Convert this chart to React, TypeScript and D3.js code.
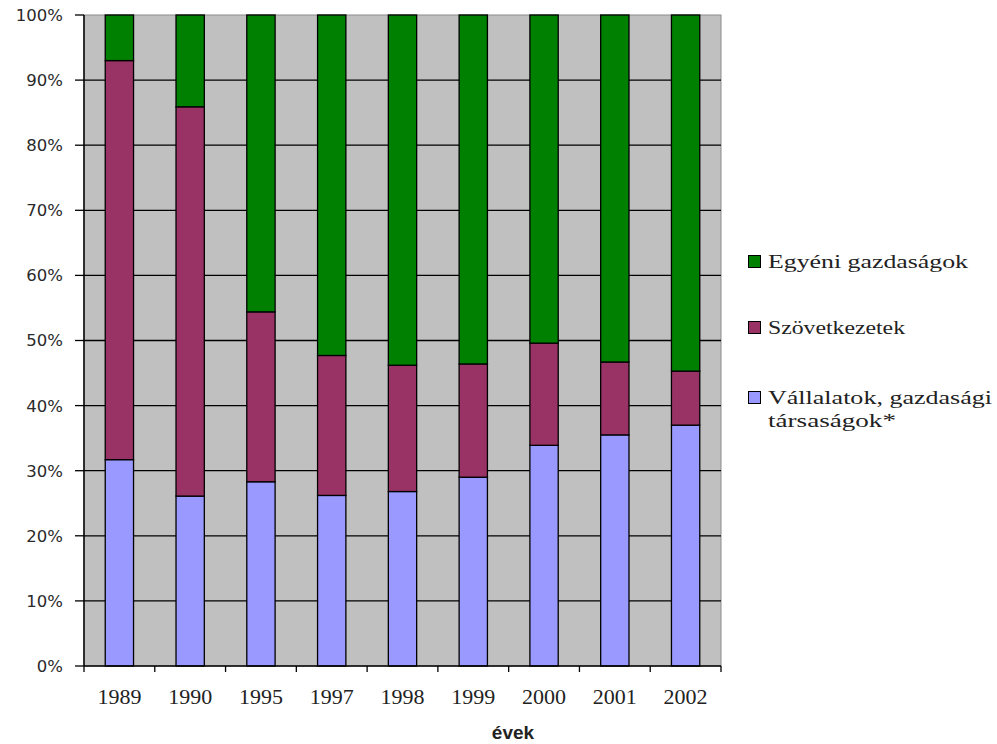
import React from "react";
import * as d3 from "d3";

// Share of agricultural land use by type of farm, 1989–2002 (%)
const years = ["1989", "1990", "1995", "1997", "1998", "1999", "2000", "2001", "2002"];
const vallalatok = [31.7, 26.1, 28.3, 26.2, 26.8, 29.0, 33.9, 35.5, 37.0];
const szovetkezetek = [61.3, 59.8, 26.1, 21.5, 19.4, 17.4, 15.7, 11.2, 8.3];
const egyeni = [7.0, 14.1, 45.6, 52.3, 53.8, 53.6, 50.4, 53.3, 54.7];
const yTicks = [0, 10, 20, 30, 40, 50, 60, 70, 80, 90, 100];

const seriesColors = ["#9999FF", "#993366", "#008000"];

const W = 997;
const H = 744;
const plot = { left: 84, right: 721, top: 15, bottom: 666 };

export default function App() {
  const x = d3
    .scaleBand<string>()
    .domain(years)
    .range([plot.left, plot.right])
    .paddingInner(0.6)
    .paddingOuter(0.3);
  const y = d3.scaleLinear().domain([0, 100]).range([plot.bottom, plot.top]);

  const rows = years.map((yr, i) => ({
    year: yr,
    v: vallalatok[i],
    s: szovetkezetek[i],
    e: egyeni[i],
  }));
  const stack = d3.stack<any>().keys(["v", "s", "e"]);
  const layers = stack(rows);

  const step = x.step();
  const boundaries = d3.range(years.length + 1).map((i) => plot.left + i * step);

  const legend = [
    { label: ["Egyéni gazdaságok"], color: seriesColors[2], cy: 262, widths: [200] },
    { label: ["Szövetkezetek"], color: seriesColors[1], cy: 328, widths: [137] },
    { label: ["Vállalatok, gazdasági", "társaságok*"], color: seriesColors[0], cy: 398, widths: [224, 128] },
  ];

  return (
    <svg
      width={W}
      height={H}
      style={{ position: "absolute", left: 0, top: 0, display: "block", background: "#fff" }}
    >
      {/* plot background */}
      <rect
        x={plot.left}
        y={plot.top}
        width={plot.right - plot.left}
        height={plot.bottom - plot.top}
        fill="#C0C0C0"
        stroke="#8c8c8c"
        strokeWidth={1}
      />
      {/* horizontal gridlines */}
      {yTicks
        .filter((t) => t > 0 && t < 100)
        .map((t) => (
          <line key={t} x1={plot.left} x2={plot.right} y1={y(t)} y2={y(t)} stroke="#000" strokeWidth={1.3} />
        ))}
      {/* stacked bars */}
      {layers.map((layer, li) => (
        <g key={li} fill={seriesColors[li]} stroke="#000" strokeWidth={1.3}>
          {layer.map((d, i) => (
            <rect
              key={i}
              x={x(years[i])}
              y={y(d[1])}
              width={x.bandwidth()}
              height={y(d[0]) - y(d[1])}
            />
          ))}
        </g>
      ))}
      {/* axes */}
      <line x1={plot.left} x2={plot.left} y1={plot.top} y2={plot.bottom} stroke="#000" strokeWidth={1.5} />
      <line x1={plot.left} x2={plot.right} y1={plot.bottom} y2={plot.bottom} stroke="#000" strokeWidth={1.5} />
      {yTicks.map((t) => (
        <g key={t}>
          <line x1={plot.left - 9} x2={plot.left} y1={y(t)} y2={y(t)} stroke="#000" strokeWidth={1.3} />
          <text
            x={63}
            y={y(t)}
            dy="0.36em"
            textAnchor="end"
            fontFamily="DejaVu Sans, sans-serif"
            fontSize={16.5}
            fill="#2a2a2a"
          >
            {t}%
          </text>
        </g>
      ))}
      {boundaries.map((bx, i) => (
        <line key={i} x1={bx} x2={bx} y1={plot.bottom} y2={plot.bottom + 6} stroke="#000" strokeWidth={1.3} />
      ))}
      {years.map((yr) => (
        <text
          key={yr}
          x={(x(yr) as number) + x.bandwidth() / 2}
          y={704}
          textAnchor="middle"
          fontFamily="Liberation Serif, Times New Roman, serif"
          fontSize={22}
          fill="#222"
        >
          {yr}
        </text>
      ))}
      {/* axis title */}
      <text
        x={513}
        y={739}
        textAnchor="middle"
        fontFamily="Liberation Sans, Arial, sans-serif"
        fontWeight="bold"
        fontSize={19}
        fill="#222"
      >
        évek
      </text>
      {/* legend */}
      {legend.map((l, i) => (
        <g key={i}>
          <rect x={748.5} y={l.cy - 6.5} width={12} height={12} fill={l.color} stroke="#000" strokeWidth={1} />
          {l.label.map((line, j) => (
            <text
              key={j}
              x={768}
              y={l.cy + 6 + j * 23}
              fontFamily="Liberation Serif, Times New Roman, serif"
              fontSize={19}
              fill="#222"
              textLength={l.widths[j]}
              lengthAdjust="spacingAndGlyphs"
            >
              {line}
            </text>
          ))}
        </g>
      ))}
    </svg>
  );
}
